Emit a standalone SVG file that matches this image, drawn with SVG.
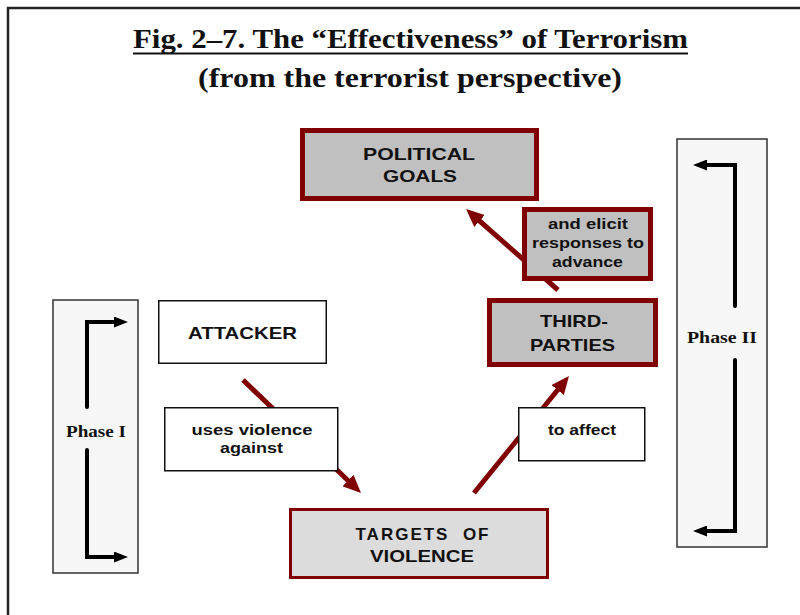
<svg xmlns="http://www.w3.org/2000/svg" width="800" height="615" viewBox="0 0 800 615">
<style>
.big{font-family:"Liberation Sans",Arial,sans-serif;font-weight:bold;font-size:17px;fill:#111;text-anchor:middle}
.sm{font-family:"Liberation Sans",Arial,sans-serif;font-weight:bold;font-size:15px;fill:#111;text-anchor:middle}
.ph{font-family:"Liberation Serif","Times New Roman",serif;font-weight:bold;font-size:16px;fill:#111;text-anchor:middle}
.ttl{font-family:"Liberation Serif","Times New Roman",serif;font-weight:bold;font-size:28px;fill:#111;text-anchor:middle}
.red{fill:#C0C0C0;stroke:#800000;stroke-width:5}
.redl{fill:#DCDCDC;stroke:#800000;stroke-width:3}
.wht{fill:#fff;stroke:#111;stroke-width:1.5}
.phase{fill:#F7F7F7;stroke:#333;stroke-width:1.5}
.rline{fill:none;stroke:#800000;stroke-width:5;marker-end:url(#rh)}
.bline{fill:none;stroke:#000;stroke-width:4;stroke-linecap:round;stroke-linejoin:miter;marker-end:url(#bh)}
</style>
<defs>
<marker id="rh" markerUnits="userSpaceOnUse" viewBox="0 0 18 16" markerWidth="18" markerHeight="16" refX="9" refY="8" orient="auto">
<path d="M0,0 L18,8 L0,16 z" fill="#800000"/>
</marker>
<marker id="bh" markerUnits="userSpaceOnUse" viewBox="0 0 14 11" markerWidth="14" markerHeight="11" refX="7" refY="5.5" orient="auto">
<path d="M0,0 L14,5.5 L0,11 z" fill="#000"/>
</marker>
</defs>
<rect x="8" y="8" width="820" height="640" fill="none" stroke="#222" stroke-width="2.5"/>
<g id="title">
<text class="ttl" x="410.5" y="48" textLength="555" lengthAdjust="spacingAndGlyphs">Fig. 2–7. The “Effectiveness” of Terrorism</text>
<line x1="133" y1="53.5" x2="688" y2="53.5" stroke="#111" stroke-width="2"/>
<text class="ttl" x="410" y="87" textLength="424" lengthAdjust="spacingAndGlyphs">(from the terrorist perspective)</text>
</g>
<g id="phase1">
<rect class="phase" x="53" y="300" width="85" height="273"/>
<text class="ph" x="96" y="437" textLength="60" lengthAdjust="spacingAndGlyphs">Phase I</text>
<path class="bline" d="M87,407 V322 H121"/>
<path class="bline" d="M87,450 V557 H121"/>
</g>
<g id="phase2">
<rect class="phase" x="677" y="139" width="90" height="408"/>
<text class="ph" x="722" y="343" textLength="70" lengthAdjust="spacingAndGlyphs">Phase II</text>
<path class="bline" d="M735,306 V165 H700"/>
<path class="bline" d="M735,360 V531 H700"/>
</g>
<g id="connectors">
<path class="rline" d="M243,380 L354.5,486.8"/>
<path class="rline" d="M474,493 L563.3,383"/>
<path class="rline" d="M558,290 L472.8,215"/>
</g>
<g id="political-goals">
<rect class="red" x="302.5" y="130.5" width="234" height="68"/>
<text class="big" x="419" y="160" textLength="112" lengthAdjust="spacingAndGlyphs">POLITICAL</text>
<text class="big" x="420" y="182" textLength="74" lengthAdjust="spacingAndGlyphs">GOALS</text>
</g>
<g id="elicit-label">
<rect class="red" x="524.5" y="209.5" width="126" height="69"/>
<text class="sm" x="588" y="229" textLength="80" lengthAdjust="spacingAndGlyphs">and elicit</text>
<text class="sm" x="588" y="248" textLength="112" lengthAdjust="spacingAndGlyphs">responses to</text>
<text class="sm" x="587.5" y="267" textLength="71" lengthAdjust="spacingAndGlyphs">advance</text>
</g>
<g id="third-parties">
<rect class="red" x="489.5" y="300.5" width="166" height="64"/>
<text class="big" x="574" y="327" textLength="68" lengthAdjust="spacingAndGlyphs">THIRD-</text>
<text class="big" x="572.5" y="351" textLength="85" lengthAdjust="spacingAndGlyphs">PARTIES</text>
</g>
<g id="attacker">
<rect class="wht" x="158.75" y="300.75" width="167.5" height="62.5"/>
<text class="big" x="242.5" y="339" textLength="109" lengthAdjust="spacingAndGlyphs">ATTACKER</text>
</g>
<g id="uses-label">
<rect class="wht" x="164.75" y="407.75" width="173" height="63"/>
<text class="sm" x="252" y="435" textLength="121" lengthAdjust="spacingAndGlyphs">uses violence</text>
<text class="sm" x="251.5" y="453" textLength="63" lengthAdjust="spacingAndGlyphs">against</text>
</g>
<g id="affect-label">
<rect class="wht" x="518.75" y="407.75" width="126" height="53"/>
<text class="sm" x="582" y="435" textLength="68" lengthAdjust="spacingAndGlyphs">to affect</text>
</g>
<g id="targets">
<rect class="redl" x="290.5" y="509.5" width="257" height="68"/>
<text class="big" x="423" y="540" letter-spacing="2" xml:space="preserve">TARGETS  OF</text>
<text class="big" x="422" y="562" textLength="104" lengthAdjust="spacingAndGlyphs">VIOLENCE</text>
</g>
</svg>
